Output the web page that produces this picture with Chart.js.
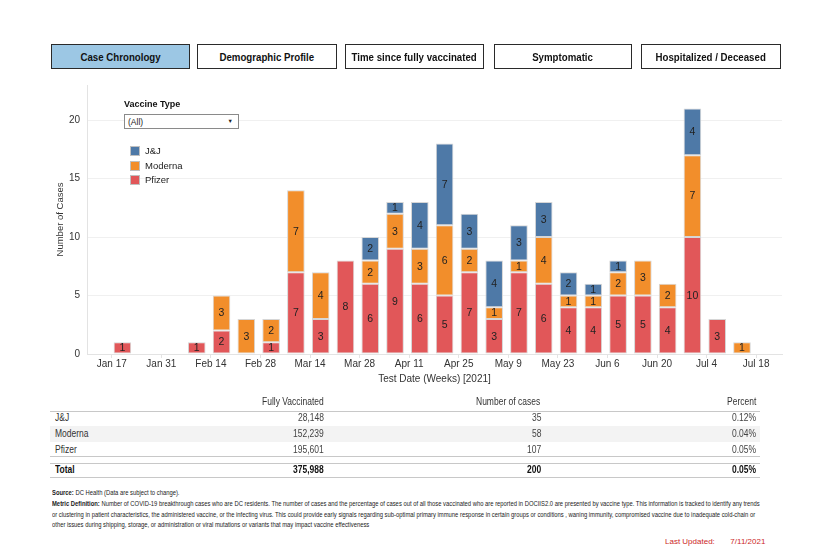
<!DOCTYPE html>
<html>
<head>
<meta charset="utf-8">
<script src="https://cdn.jsdelivr.net/npm/chart.js@4.4.1/dist/chart.umd.min.js"></script>
<style>
  html, body { margin: 0; padding: 0; background: #fff; }
  body { width: 836px; height: 556px; position: relative; overflow: hidden;
         font-family: "Liberation Sans", Arial, sans-serif; color: #333; }
  #chartBox { position: absolute; left: 0; top: 0; width: 836px; height: 400px; z-index: 0; }
  .btn { position: absolute; top: 44px; height: 25px; box-sizing: border-box; border: 1px solid #2a2a2a;
         display: flex; align-items: center; justify-content: center; font-weight: bold; font-size: 11px; color: #111; z-index: 2; background: #fff; }
  .btn span { display: inline-block; white-space: nowrap; transform: scaleX(0.88); }
  .btn.active { background: #9cc7e4; }
  #legendTitle { position: absolute; left: 124px; top: 99px; font-weight: bold; font-size: 9px; color: #111; z-index: 2; }
  #dropdown { position: absolute; left: 124px; top: 114px; width: 115px; height: 15px; box-sizing: border-box; border: 1px solid #8a8a8a;
              background: #fff; font-size: 8.5px; color: #222; z-index: 2; }
  #dropdown span.v { position: absolute; left: 3px; top: 1.5px; }
  #dropdown span.a { position: absolute; right: 5px; top: 3px; font-size: 5.5px; }
  .legItem { position: absolute; left: 130px; height: 10px; z-index: 2; font-size: 9.5px; color: #222; }
  .legItem .sw { position: absolute; left: 0; top: 0; width: 10px; height: 10px; box-sizing: border-box; border: 1px solid #c0c0c0; }
  .legItem .tx { position: absolute; left: 15px; top: -1px; white-space: nowrap; }
  .cell { position: absolute; font-size: 10px; white-space: nowrap; color: #444; z-index: 2; transform-origin: 0 50%; }
  .hline { position: absolute; left: 50px; width: 710px; height: 1px; background: #c8c8c8; }
  .band { position: absolute; left: 50px; width: 710px; background: #f3f3f3; }
  .note { position: absolute; left: 52px; font-size: 6.3px; white-space: nowrap; color: #222; transform-origin: 0 50%; }
  #updated { position: absolute; top: 537px; font-size: 8px; color: #cc1f1f; white-space: nowrap; }
</style>
</head>
<body>
<div id="chartBox"><canvas id="c"></canvas></div>
<div id="overlay"></div>
<script>
// ---------------- data ----------------
const navButtons = ['Case Chronology', 'Demographic Profile', 'Time since fully vaccinated', 'Symptomatic', 'Hospitalized / Deceased'];

const weekStarts = ['2021-01-17','2021-01-24','2021-01-31','2021-02-07','2021-02-14','2021-02-21','2021-02-28',
                    '2021-03-07','2021-03-14','2021-03-21','2021-03-28','2021-04-04','2021-04-11','2021-04-18',
                    '2021-04-25','2021-05-02','2021-05-09','2021-05-16','2021-05-23','2021-05-30','2021-06-06',
                    '2021-06-13','2021-06-20','2021-06-27','2021-07-04','2021-07-11'];

const pfizerCases  = [1,0,0,1,2,0,1,7,3,8,6,9,6,5,7,3,7,6,4,4,5,5,4,10,3,0];
const modernaCases = [0,0,0,0,3,3,2,7,4,0,2,3,3,6,2,1,1,4,1,1,2,3,2,7,0,1];
const jjCases      = [0,0,0,0,0,0,0,0,0,0,2,1,4,7,3,4,3,3,2,1,1,0,0,4,0,0];

const seriesNames  = ['J&J', 'Moderna', 'Pfizer'];
const seriesColors = ['#4e79a7', '#f28e2b', '#e15759'];

const tickDates  = ['2021-01-17','2021-01-31','2021-02-14','2021-02-28','2021-03-14','2021-03-28','2021-04-11',
                    '2021-04-25','2021-05-09','2021-05-23','2021-06-06','2021-06-20','2021-07-04','2021-07-18'];
const tickLabels = ['Jan 17','Jan 31','Feb 14','Feb 28','Mar 14','Mar 28','Apr 11',
                    'Apr 25','May 9','May 23','Jun 6','Jun 20','Jul 4','Jul 18'];
const yTicks = [0, 5, 10, 15, 20];

const tableHeaders    = ['Fully Vaccinated', 'Number of cases', 'Percent'];
const tableRows       = ['J&J', 'Moderna', 'Pfizer'];
const fullyVaccinated = ['28,148', '152,239', '195,601'];
const caseCounts      = ['35', '58', '107'];
const percents        = ['0.12%', '0.04%', '0.05%'];
const totalRow        = ['Total', '375,988', '200', '0.05%'];

const notes = [
  ['Source:', ' DC Health (Data are subject to change).'],
  ['Metric Definition:', ' Number of COVID-19 breakthrough cases who are DC residents. The number of cases and the percentage of cases out of all those vaccinated who are reported in DOCIIS2.0 are presented by vaccine type. This information is tracked to identify any trends'],
  ['', 'or clustering in patient characteristics, the administered vaccine, or the infecting virus.  This could provide early signals regarding sub-optimal primary immune response in certain groups or conditions , waning immunity, compromised vaccine due to inadequate cold-chain or'],
  ['', 'other issues during shipping, storage, or administration or viral mutations or variants that may impact vaccine effectiveness']
];
const lastUpdated = ['Last Updated:', '7/11/2021'];

// ---------------- HTML parts ----------------
const ov = document.getElementById('overlay');
function el(cls, html, style) {
  const d = document.createElement('div');
  if (cls) d.className = cls;
  d.innerHTML = html;
  Object.assign(d.style, style || {});
  ov.appendChild(d);
  return d;
}
const esc = s => s.replace(/&/g, '&amp;');
const btnX = [[51,190],[197,337],[345,484],[494,632],[641,781]];
navButtons.forEach((t, i) => {
  el('btn' + (i === 0 ? ' active' : ''), '<span>' + t + '</span>', { left: btnX[i][0] + 'px', width: (btnX[i][1] - btnX[i][0]) + 'px' });
});

const lt = el('', 'Vaccine Type'); lt.id = 'legendTitle';
const dd = el('', '<span class="v">(All)</span><span class="a">&#9660;</span>'); dd.id = 'dropdown';
seriesNames.forEach((n, i) => {
  el('legItem', '<div class="sw" style="background:' + seriesColors[i] + '"></div><div class="tx">' + esc(n) + '</div>',
     { top: (146 + i * 14.6) + 'px' });
});

// table (text is slightly condensed like the original narrow face)
const SQ = 0.85;
const colRight = [324, 541, 756];
function leftCell(txt, left, cy, extra) {
  const d = el('cell', txt, Object.assign({ top: (cy - 6) + 'px', left: left + 'px', transform: 'scaleX(' + SQ + ')' }, extra || {}));
  return d;
}
function rightCell(txt, right, cy, extra) {
  const d = leftCell(txt, 0, cy, extra);
  d.style.left = (right - d.offsetWidth * SQ) + 'px';
  return d;
}
el('band', '', { top: '426px', height: '16px' });
el('hline', '', { top: '411px' });
el('hline', '', { top: '456px' });
el('hline', '', { top: '463px' });
el('hline', '', { top: '477px' });
tableHeaders.forEach((h, i) => rightCell(h, colRight[i], 402, { color: '#333' }));
tableRows.forEach((r, i) => {
  const cy = 418 + i * 16;
  leftCell(esc(r), 55, cy, { color: '#333' });
  rightCell(fullyVaccinated[i], colRight[0], cy);
  rightCell(caseCounts[i], colRight[1], cy);
  rightCell(percents[i], colRight[2], cy);
});
leftCell(totalRow[0], 55, 470, { fontWeight: 'bold', color: '#111' });
for (let i = 1; i < 4; i++) rightCell(totalRow[i], colRight[i - 1], 470, { fontWeight: 'bold', color: '#111' });

// notes, squeezed so that the long line ends where the original's does
const noteEls = notes.map((n, i) =>
  el('note', (n[0] ? '<b>' + n[0] + '</b>' : '') + n[1], { top: (489 + i * 10.8) + 'px' }));
const noteSq = 708 / noteEls[1].offsetWidth;
noteEls.forEach(d => d.style.transform = 'scaleX(' + noteSq + ')');

const up = el('', lastUpdated[0] + '&nbsp;&nbsp;&nbsp;&nbsp;&nbsp;&nbsp;&nbsp;' + lastUpdated[1]); up.id = 'updated';
up.style.left = (765 - up.offsetWidth) + 'px';

// ---------------- chart ----------------
const DAY = 86400000;
const t0 = Date.parse(weekStarts[0]);
const dayOf = s => (Date.parse(s) - t0) / DAY;
const weekDays = weekStarts.map(dayOf);
const tickDays = tickDates.map(dayOf);
const MID_WEEK = 3; // bars are centred inside their week

function series(vals) {
  return vals.map((v, i) => ({ x: weekDays[i] + MID_WEEK, y: v === 0 ? null : v }));
}

Chart.defaults.font.family = '"Liberation Sans", Arial, sans-serif';
Chart.defaults.color = '#333';

const barLabels = {
  id: 'barLabels',
  afterDatasetsDraw(chart) {
    const ctx = chart.ctx;
    ctx.save();
    ctx.font = '10.5px ' + Chart.defaults.font.family;
    ctx.fillStyle = '#222';
    ctx.textAlign = 'center';
    ctx.textBaseline = 'middle';
    chart.data.datasets.forEach((ds, i) => {
      const meta = chart.getDatasetMeta(i);
      meta.data.forEach((bar, j) => {
        const v = ds.data[j].y;
        if (!v) return;
        const p = bar.getProps(['x', 'y', 'base'], true);
        ctx.fillText(String(v), p.x, (p.y + p.base) / 2 + 0.5);
      });
    });
    ctx.restore();
  }
};

const dsOrder = [2, 1, 0]; // Pfizer bottom, Moderna, J&J top
const seriesVals = [jjCases, modernaCases, pfizerCases];

new Chart(document.getElementById('c'), {
  type: 'bar',
  data: {
    datasets: dsOrder.map(k => ({
      label: seriesNames[k],
      data: series(seriesVals[k]),
      backgroundColor: seriesColors[k],
      borderColor: 'rgba(214,214,214,1)',
      borderWidth: 1,
      borderSkipped: false,
      categoryPercentage: 1,
      barPercentage: 0.71
    }))
  },
  options: {
    responsive: true,
    maintainAspectRatio: false,
    animation: false,
    layout: { padding: { left: 55, right: 54, top: 85, bottom: 14.4 } },
    plugins: { legend: { display: false }, tooltip: { enabled: false } },
    scales: {
      x: {
        type: 'linear', stacked: true, offset: false,
        min: -7, max: 189.3,
        grid: { display: true, drawOnChartArea: false, drawTicks: true, tickLength: 4, color: '#e3e3e3', offset: false },
        border: { display: true, color: '#e3e3e3' },
        afterBuildTicks(s) { s.ticks = tickDays.map(v => ({ value: v })); },
        ticks: { autoSkip: false, maxRotation: 0, padding: 0, color: '#333', font: { size: 10 },
                 callback: (v, i) => tickLabels[i] },
        title: { display: true, text: 'Test Date (Weeks) [2021]', color: '#333', font: { size: 10 }, padding: 0 },
        afterFit(s) { s.height = 31.6; }
      },
      y: {
        stacked: true, min: 0, max: 23,
        afterBuildTicks(s) { s.ticks = yTicks.map(v => ({ value: v })); },
        grid: { color: '#f0f0f0', drawTicks: false },
        border: { display: true, color: '#e3e3e3' },
        ticks: { padding: 7, color: '#333', font: { size: 10 } },
        title: { display: true, text: 'Number of Cases', color: '#333', font: { size: 9.5 }, padding: 0 },
        afterFit(s) { s.width = 32; }
      }
    }
  },
  plugins: [barLabels]
});
</script>
</body>
</html>
